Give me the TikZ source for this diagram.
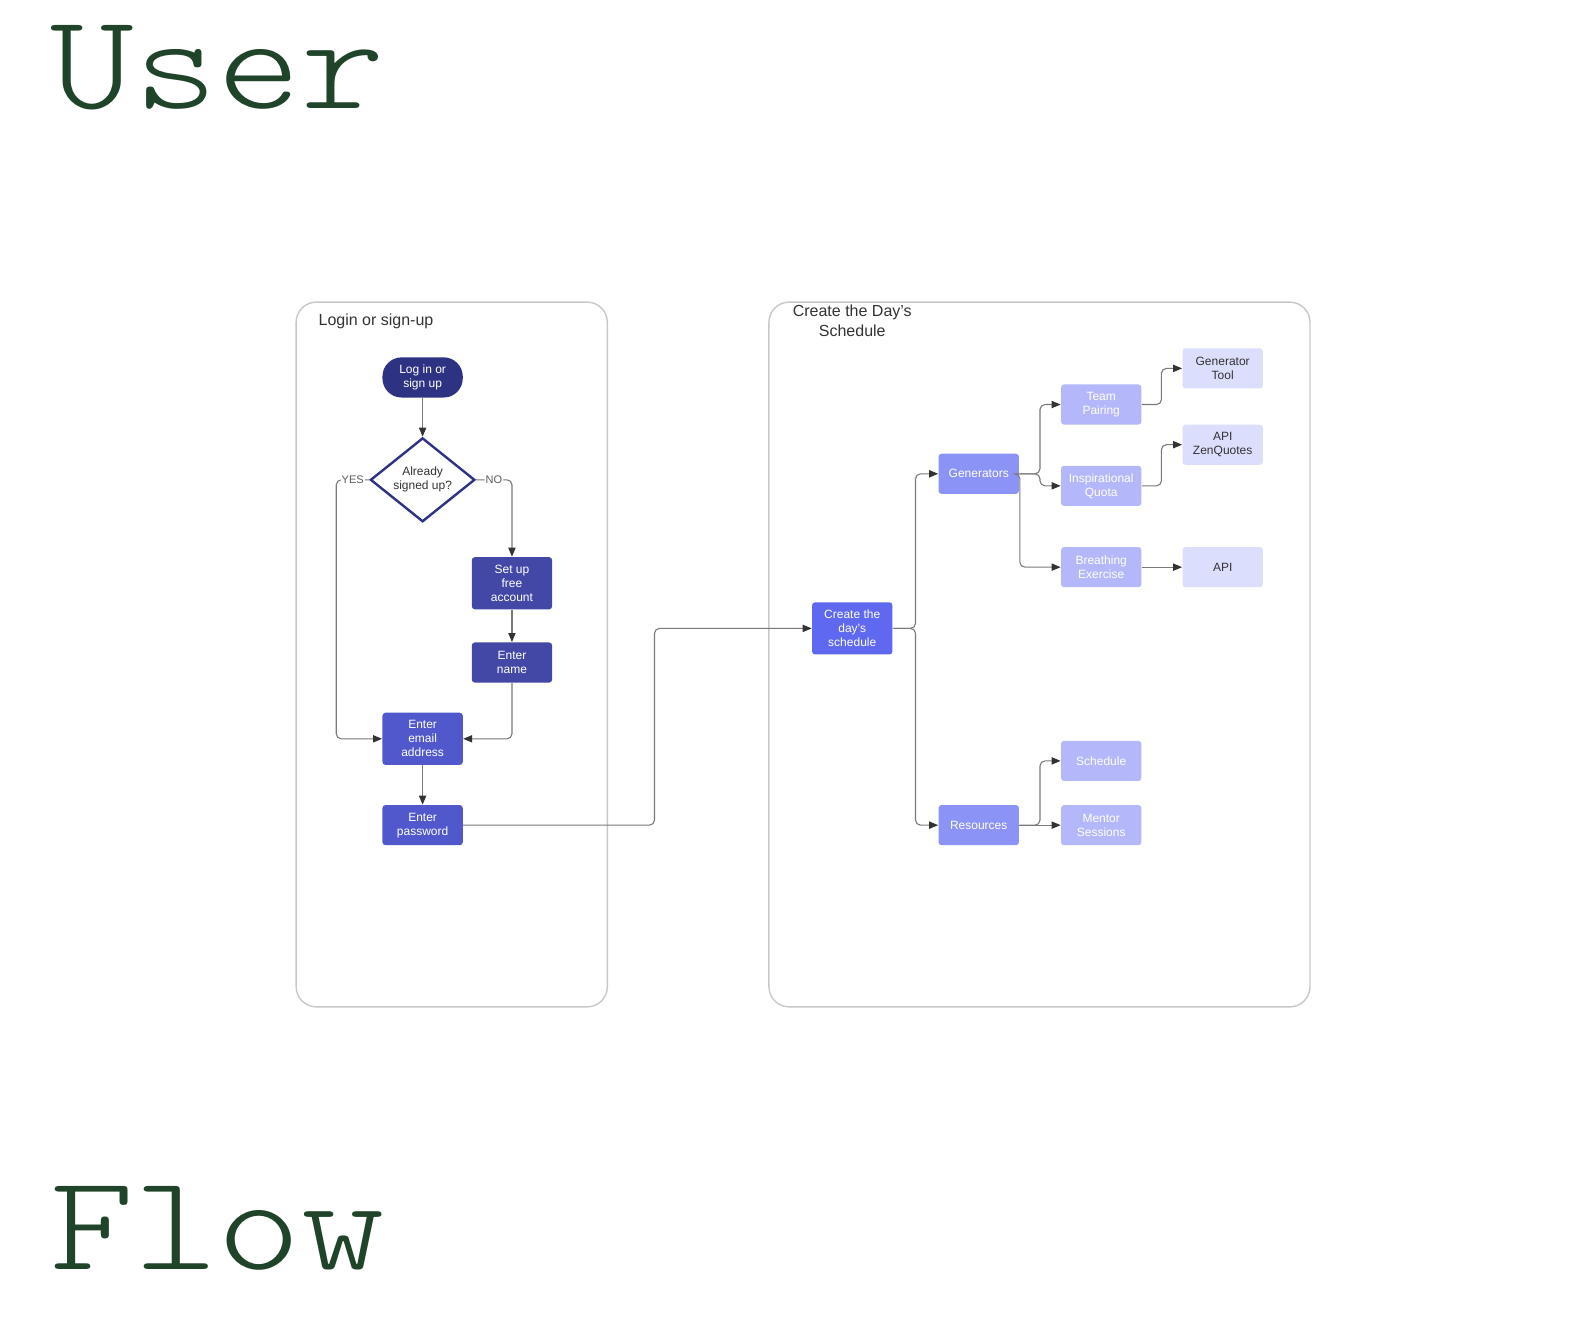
\documentclass[tikz,border=0pt]{standalone}
\usepackage{fontspec}
\setmainfont{Liberation Sans}
\newfontfamily\titlefont[FakeStretch=1.17]{Latin Modern Mono Light}
\usetikzlibrary{shapes.geometric,arrows.meta}
\newlength\pu
\setlength\pu{0.50191pt}
\definecolor{navyA}{HTML}{2E3282}
\definecolor{navyB}{HTML}{4348A6}
\definecolor{navyC}{HTML}{5158CC}
\definecolor{blueD}{HTML}{5E68F0}
\definecolor{blueE}{HTML}{8C93F7}
\definecolor{blueF}{HTML}{B4B8FB}
\definecolor{blueG}{HTML}{DCDEFD}
\definecolor{titlegreen}{HTML}{1F4429}
\definecolor{linegray}{HTML}{7A7A7A}
\definecolor{tipgray}{HTML}{333333}
\definecolor{framegray}{HTML}{C8C8C8}
\begin{document}
\begin{tikzpicture}[x=0.50191pt,y=-0.50191pt,
  box/.style={rectangle, rounded corners=3\pu, minimum width=80\pu, minimum height=40\pu,
    inner sep=1pt, align=center, text=white, font=\fontsize{6}{7}\selectfont},
  tallbox/.style={box, minimum height=52\pu},
  frame/.style={draw=framegray, line width=0.7pt, rounded corners=20\pu},
  flow/.style={draw=linegray, line width=0.55pt, rounded corners=5\pu,
    -{Triangle[length=4.5pt,width=3.6pt,fill=tipgray,color=tipgray]}},
  lbl/.style={fill=white, inner sep=0.6pt, text=tipgray!80, font=\fontsize{5.5}{6}\selectfont},
  frametitle/.style={text=tipgray, font=\fontsize{8}{10}\selectfont, align=center, inner sep=0},
  bigtitle/.style={anchor=base west, inner sep=0, text=titlegreen, font=\titlefont\fontsize{68}{68}\selectfont}]
\useasboundingbox (0,0) rectangle (1568,1333);
\fill[white] (0,0) rectangle (1568,1333);

% titles
\node[bigtitle] (tuser) at (50,108) {User};
\node[bigtitle] (tflow) at (50,1265) {Flow};

% containers
\draw[frame] (295,301) rectangle (605,1003);
\draw[frame] (766,301) rectangle (1305,1003);
\node[frametitle, anchor=west] (t1) at (317,320) {Login or sign-up};
\node[frametitle] (t2) at (849,320) {Create the Day's\\Schedule};

% left flow
\node[box, fill=navyA, rounded corners=19\pu] (login) at (421,376) {Log in or\\sign up};
\node[diamond, draw=navyA, line width=1.2pt, fill=white, minimum width=104\pu, minimum height=80\pu,
  inner sep=0, align=center, text=tipgray, font=\fontsize{6}{7}\selectfont] (dia) at (421,478) {Already\\signed up?};
\node[tallbox, fill=navyB] (setup) at (510,581) {Set up\\free\\account};
\node[box, fill=navyB] (name) at (510,660) {Enter\\name};
\node[tallbox, fill=navyC] (email) at (421,736) {Enter\\email\\address};
\node[box, fill=navyC] (pass) at (421,822) {Enter\\password};

% right flow
\node[tallbox, fill=blueD] (create) at (849,626) {Create the\\day's\\schedule};
\node[box, fill=blueE] (gen) at (975,472) {Generators};
\node[box, fill=blueE] (res) at (975,822) {Resources};
\node[box, fill=blueF] (team) at (1097,403) {Team\\Pairing};
\node[box, fill=blueF] (quote) at (1097,484) {Inspirational\\Quota};
\node[box, fill=blueF] (breath) at (1097,565) {Breathing\\Exercise};
\node[box, fill=blueF] (sched) at (1097,758) {Schedule};
\node[box, fill=blueF] (mentor) at (1097,822) {Mentor\\Sessions};
\node[box, fill=blueG, text=tipgray] (gtool) at (1218,367) {Generator\\Tool};
\node[box, fill=blueG, text=tipgray] (zen) at (1218,443) {API\\ZenQuotes};
\node[box, fill=blueG, text=tipgray] (api) at (1218,565) {API};

% connectors left
\draw[flow] (login.south) -- (dia.north);
\draw[flow] (dia.west) -- node[lbl]{YES} (335,478) -- (335,736) -- (email.west);
\draw[flow] (dia.east) -- node[lbl]{NO} (510,478) -- (setup.north);
\draw[flow] (setup.south) -- (name.north);
\draw[flow] (name.south) -- (510,736) -- (email.east);
\draw[flow] (email.south) -- (pass.north);
\draw[flow] (pass.east) -- (652,822) -- (652,626) -- (create.west);

% connectors right
\draw[flow] (create.east) -- (912,626) -- (912,472) -- (gen.west);
\draw[flow] (create.east) -- (912,626) -- (912,822) -- (res.west);
\draw[flow] (gen.east) -- (1036,472) -- (1036,403) -- (team.west);
\draw[flow] (gen.east) -- (1036,472) -- (1036,484) -- (quote.west);
\draw[flow] (gen.east) -- (1016,472) -- (1016,565) -- (breath.west);
\draw[flow] (team.east) -- (1157,403) -- (1157,367) -- (gtool.west);
\draw[flow] (quote.east) -- (1157,484) -- (1157,443) -- (zen.west);
\draw[flow] (breath.east) -- (api.west);
\draw[flow] (res.east) -- (1036,822) -- (1036,758) -- (sched.west);
\draw[flow] (res.east) -- (mentor.west);
\end{tikzpicture}
\end{document}
